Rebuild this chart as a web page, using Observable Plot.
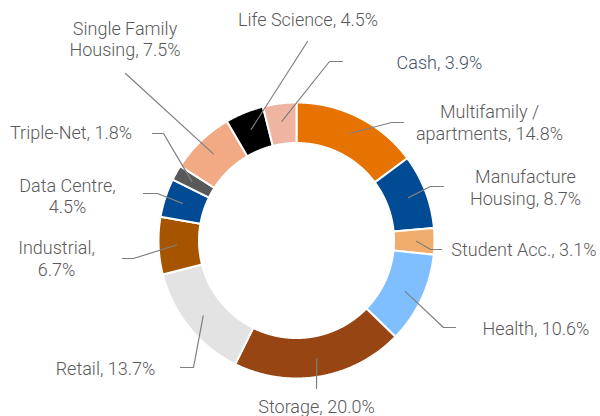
<!DOCTYPE html>
<html><head><meta charset="utf-8">
<script src="https://cdn.jsdelivr.net/npm/d3@7"></script>
<script src="https://cdn.jsdelivr.net/npm/@observablehq/plot@0.6"></script>
<style>body{margin:0;background:#fff}svg{display:block}</style>
</head><body><div id="chart"></div>
<script>
// ---- data ----
const categories = ["Multifamily / apartments","Manufacture Housing","Student Acc.","Health","Storage","Retail","Industrial","Data Centre","Triple-Net","Single Family Housing","Life Science","Cash"];
const shares = [14.8, 8.7, 3.1, 10.6, 20.0, 13.7, 6.7, 4.5, 1.8, 7.5, 4.5, 3.9];

// ---- styles ----
const colors = ["#E67300","#004B93","#F0AE6E","#7FBFFF","#974513","#E3E3E3","#A75400","#004B93","#595959","#F2AA84","#000000","#EFB5A2"];

// ---- label layout (picture coordinates): label anchor, optional leader elbow, leader end, line break prefix ----
const layout = {
  "Multifamily / apartments": {lx: 489, ly: 121.5, ex: 391, ey: 122, tx: 403, ty: 122, wrap: "Multifamily / "},
  "Manufacture Housing": {lx: 525, ly: 186.5, ex: 430, ey: 186, tx: 443, ty: 186, wrap: "Manufacture "},
  "Student Acc.": {lx: 523.5, ly: 249, ex: 430, ey: 249, tx: 441, ty: 249},
  "Health": {lx: 535.5, ly: 328, ex: 443, ey: 327, tx: 455, ty: 327},
  "Storage": {lx: 316, ly: 406, tx: 316, ty: 388},
  "Retail": {lx: 105, ly: 368, ex: 193, ey: 367, tx: 180, ty: 367},
  "Industrial": {lx: 56, ly: 257.5, ex: 133, ey: 258, tx: 122, ty: 258, wrap: "Industrial, "},
  "Data Centre": {lx: 67, ly: 195, ex: 157, ey: 193, tx: 143, ty: 193, wrap: "Data Centre, "},
  "Triple-Net": {lx: 70.5, ly: 132, ex: 163, ey: 133, tx: 152, ty: 133},
  "Single Family Housing": {lx: 124.5, ly: 38, tx: 125, ty: 73, wrap: "Single Family "},
  "Life Science": {lx: 307.5, ly: 19, tx: 307, ty: 41},
  "Cash": {lx: 439, ly: 62, ex: 329, ey: 61, tx: 342, ty: 61}
};
const ring = {cx: 296, cy: 240, outer: 138, inner: 97.5, leader: 120};

// ---- geometry through d3.pie ----
const rows = categories.map((name, i) => ({name, share: shares[i]}));
const arcs = d3.pie().sort(null).value(d => d.share)(rows);
const polar = (r, t) => [ring.cx + r * Math.sin(t), ring.cy - r * Math.cos(t)];

const slicePts = [];
arcs.forEach(a => {
  const name = a.data.name;
  const n = Math.max(4, Math.ceil((a.endAngle - a.startAngle) / 0.005));
  for (let i = 0; i <= n; i++) {
    const [x, y] = polar(ring.outer, a.startAngle + (a.endAngle - a.startAngle) * i / n);
    slicePts.push({name, x, y});
  }
  for (let i = n; i >= 0; i--) {
    const [x, y] = polar(ring.inner, a.startAngle + (a.endAngle - a.startAngle) * i / n);
    slicePts.push({name, x, y});
  }
});

const leaderPts = [];
const labels = [];
arcs.forEach(a => {
  const name = a.data.name, L = layout[name];
  const mid = (a.startAngle + a.endAngle) / 2;
  const [sx, sy] = polar(ring.leader, mid);
  leaderPts.push({name, x: sx, y: sy});
  if (L.ex !== undefined) leaderPts.push({name, x: L.ex, y: L.ey});
  leaderPts.push({name, x: L.tx, y: L.ty});
  let text = `${name}, ${a.data.share.toFixed(1)}%`;
  if (L.wrap) text = L.wrap.trimEnd() + "\n" + text.slice(L.wrap.length);
  labels.push({name, x: L.lx, y: L.ly, text});
});

const textOpts = {x: "x", y: "y", text: "text", fontSize: 18, fontWeight: 300, lineHeight: 1.2, fontFamily: "Roboto", textAnchor: "middle"};

const chart = Plot.plot({
  width: 600, height: 416,
  margin: 0,
  x: {domain: [0, 600], range: [0, 600], axis: null},
  y: {domain: [0, 416], range: [0, 416], axis: null},
  color: {domain: categories, range: colors},
  style: {fontFamily: "Roboto", background: "#fff"},
  marks: [
    Plot.line(slicePts, {x: "x", y: "y", z: "name", fill: "name", stroke: "#fff", strokeWidth: 2, curve: "linear-closed"}),
    Plot.line(leaderPts, {x: "x", y: "y", z: "name", stroke: "#7f7f7f", strokeWidth: 1.2}),
    Plot.text(labels.filter(d => d.name !== "Cash"), {...textOpts, fill: "#595959"}),
    Plot.text(labels.filter(d => d.name === "Cash"), {...textOpts, fill: "#44546A"})
  ]
});
document.getElementById("chart").appendChild(chart);
</script>
</body></html>
